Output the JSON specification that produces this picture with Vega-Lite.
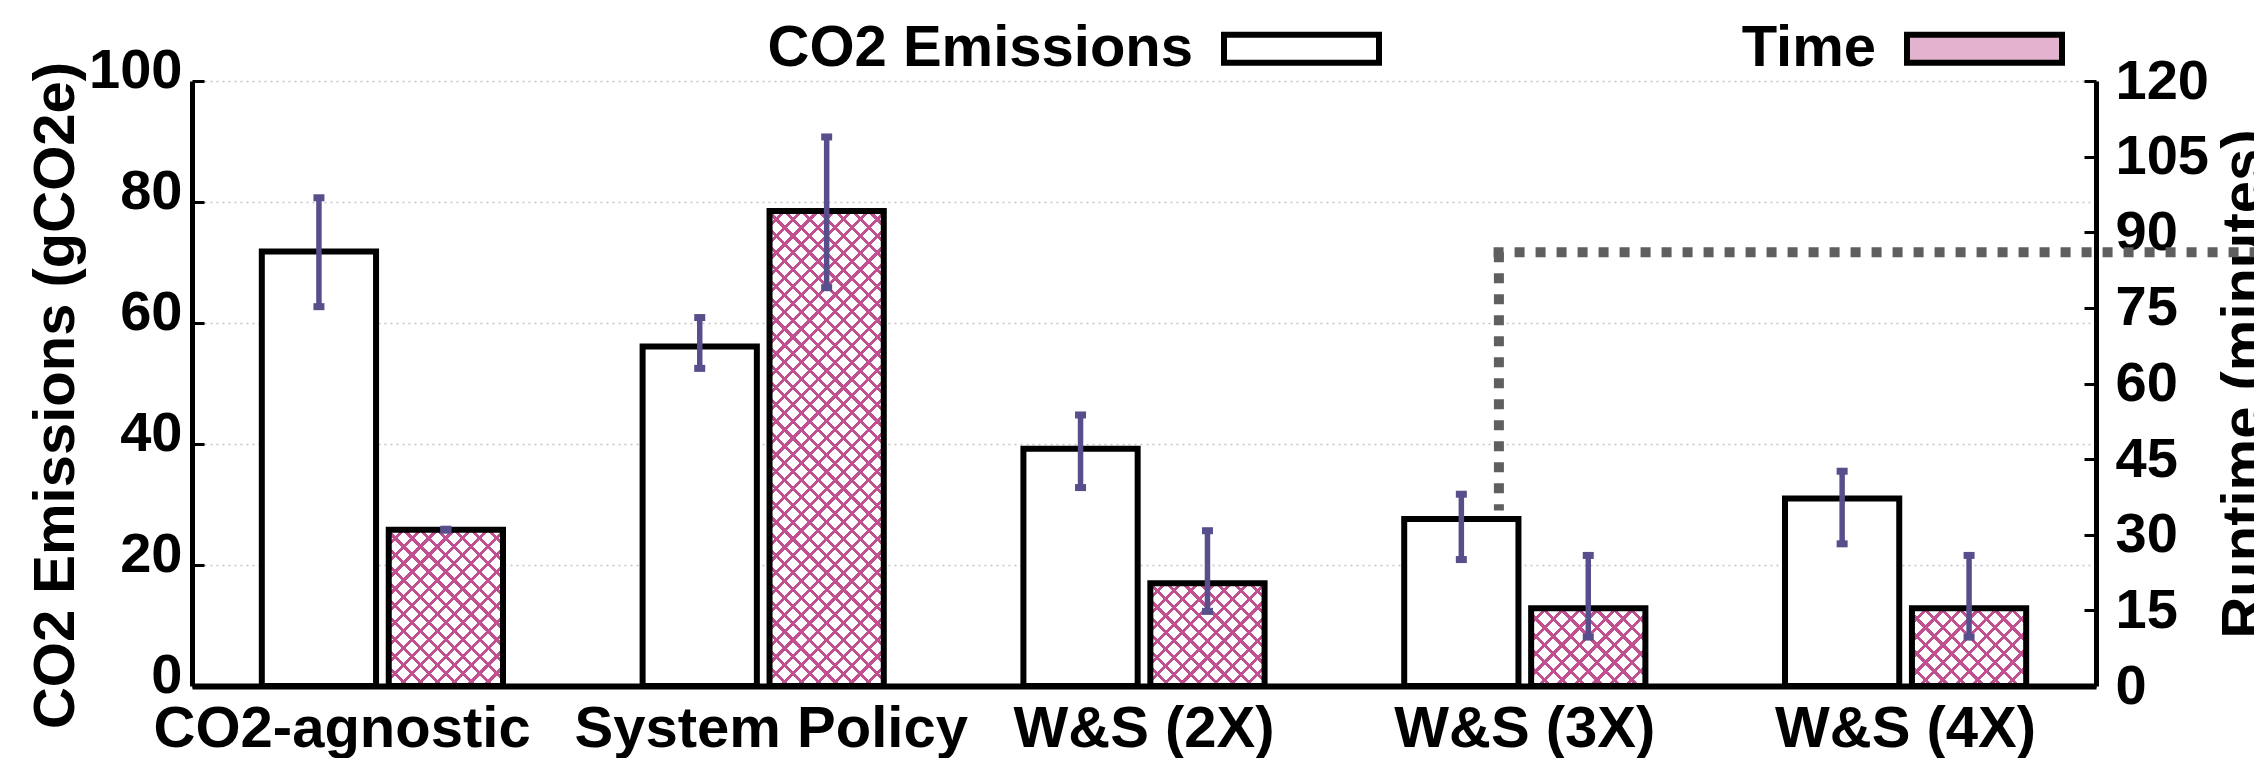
{
"$schema": "https://vega.github.io/schema/vega-lite/v6.json",
"width": 1904,
"height": 605,
"autosize": {"type": "none"},
"padding": {"left": 192, "top": 81, "right": 158, "bottom": 72},
"background": "white",
"config": {
 "font": "Liberation Sans",
 "view": {"stroke": null},
 "axis": {"labelFont": "Liberation Sans", "labelFontWeight": "bold", "labelColor": "black", "titleFont": "Liberation Sans", "titleFontWeight": "bold", "titleColor": "black", "titleFontSize": 58},
 "legend": {"labelFont": "Liberation Sans", "labelFontWeight": "bold", "labelColor": "black", "labelFontSize": 58}
},
"data": {"values": [
 {"policy": "CO2-agnostic", "series": "CO2 Emissions", "value": 71.8, "lo": 62.7, "hi": 80.7},
 {"policy": "CO2-agnostic", "series": "Time", "value": 31.0, "lo": 30.9, "hi": 31.1},
 {"policy": "System Policy", "series": "CO2 Emissions", "value": 56.1, "lo": 52.5, "hi": 60.9},
 {"policy": "System Policy", "series": "Time", "value": 94.2, "lo": 79.0, "hi": 108.9},
 {"policy": "W&S (2X)", "series": "CO2 Emissions", "value": 39.2, "lo": 32.8, "hi": 44.8},
 {"policy": "W&S (2X)", "series": "Time", "value": 20.4, "lo": 14.8, "hi": 30.8},
 {"policy": "W&S (3X)", "series": "CO2 Emissions", "value": 27.6, "lo": 20.9, "hi": 31.7},
 {"policy": "W&S (3X)", "series": "Time", "value": 15.4, "lo": 9.7, "hi": 25.9},
 {"policy": "W&S (4X)", "series": "CO2 Emissions", "value": 31.0, "lo": 23.5, "hi": 35.5},
 {"policy": "W&S (4X)", "series": "Time", "value": 15.4, "lo": 9.7, "hi": 25.9}
]},
"encoding": {
 "x": {"field": "policy", "type": "nominal",
  "scale": {"domain": ["CO2-agnostic", "System Policy", "W&S (2X)", "W&S (3X)", "W&S (4X)"], "paddingInner": 0, "paddingOuter": 0},
  "axis": {"title": null, "orient": "bottom", "ticks": false, "domain": true, "domainColor": "black", "domainWidth": 6, "grid": false, "labelAngle": 0, "labelFontSize": 58, "labelPadding": 14, "labelLimit": 0, "labelOverlap": false,
   "labelExpr": "datum.label === 'CO2-agnostic' ? 'CO2-agnostic\u00a0\u00a0\u00a0\u00a0\u00a0\u200B' : datum.label === 'System Policy' ? '\u200B\u00a0System Policy' : datum.label"}}
},
"layer": [
 {"transform": [{"filter": "datum.series === 'CO2 Emissions'"}],
  "mark": {"type": "bar", "stroke": "black", "strokeWidth": 6},
  "encoding": {
   "xOffset": {"field": "series", "type": "nominal", "scale": {"domain": ["CO2 Emissions", "Time"], "paddingInner": 0.1, "paddingOuter": 0.55}},
   "y": {"field": "value", "type": "quantitative", "scale": {"domain": [0, 100], "nice": false},
    "axis": {"orient": "left", "title": "CO2 Emissions (gCO2e)", "values": [0, 20, 40, 60, 80, 100], "grid": true, "gridColor": "#c4c4c4", "gridDash": [2, 4], "gridWidth": 1.5, "domain": true, "domainColor": "black", "domainWidth": 5, "ticks": true, "tickColor": "black", "tickSize": -12, "tickWidth": 3, "labelFontSize": 56, "labelPadding": 22, "labelOffset": -11, "labelOverlap": false, "titlePadding": 3, "titleY": 314}},
   "fill": {"field": "series", "type": "nominal", "scale": {"domain": ["CO2 Emissions", "Time"], "range": ["white", "#e3b2ce"]},
    "legend": {"orient": "none", "legendX": 1029, "legendY": -113, "direction": "horizontal", "title": null, "symbolType": "M-1,-0.18H1V0.18H-1Z", "symbolSize": 24025, "symbolStrokeColor": "black", "symbolStrokeWidth": 6, "labelAlign": "right", "labelBaseline": "middle", "labelOffset": -189, "labelLimit": 0, "columnPadding": 350}}}},
 {"transform": [{"filter": "datum.series === 'CO2 Emissions'"}],
  "mark": {"type": "rule", "color": "#574f8c", "strokeWidth": 5.5},
  "encoding": {
   "xOffset": {"field": "series", "type": "nominal", "scale": {"domain": ["CO2 Emissions", "Time"], "paddingInner": 0.1, "paddingOuter": 0.55}},
   "y": {"field": "lo", "type": "quantitative", "scale": {"domain": [0, 100], "nice": false}, "axis": null}, "y2": {"field": "hi"}}},
 {"transform": [{"filter": "datum.series === 'CO2 Emissions'"}],
  "mark": {"type": "tick", "color": "#574f8c", "size": 11, "thickness": 7, "opacity": 1},
  "encoding": {
   "xOffset": {"field": "series", "type": "nominal", "scale": {"domain": ["CO2 Emissions", "Time"], "paddingInner": 0.1, "paddingOuter": 0.55}},
   "y": {"field": "lo", "type": "quantitative", "scale": {"domain": [0, 100], "nice": false}, "axis": null}}},
 {"transform": [{"filter": "datum.series === 'CO2 Emissions'"}],
  "mark": {"type": "tick", "color": "#574f8c", "size": 11, "thickness": 7, "opacity": 1},
  "encoding": {
   "xOffset": {"field": "series", "type": "nominal", "scale": {"domain": ["CO2 Emissions", "Time"], "paddingInner": 0.1, "paddingOuter": 0.55}},
   "y": {"field": "hi", "type": "quantitative", "scale": {"domain": [0, 100], "nice": false}, "axis": null}}},
 {"transform": [{"filter": "datum.series === 'Time'"}],
  "mark": {"type": "bar", "fill": "white", "strokeWidth": 0},
  "encoding": {
   "xOffset": {"field": "series", "type": "nominal", "scale": {"domain": ["CO2 Emissions", "Time"], "paddingInner": 0.1, "paddingOuter": 0.55}},
   "y": {"field": "value", "type": "quantitative", "scale": {"domain": [0, 120], "nice": false},
    "axis": {"orient": "right", "title": "Runtime (minutes)", "values": [0, 15, 30, 45, 60, 75, 90, 105, 120], "grid": false, "domain": true, "domainColor": "black", "domainWidth": 5, "ticks": true, "tickColor": "black", "tickSize": -12, "tickWidth": 3, "labelFontSize": 56, "labelPadding": 31, "labelOverlap": false, "titleAngle": 270, "titleBaseline": "top", "titlePadding": 7}}}},
 {"transform": [{"filter": "datum.series === 'Time' && datum.policy === 'CO2-agnostic'"}],
  "mark": {"type": "bar", "strokeWidth": 0, "fill": {"gradient": "linear", "x1": 0, "y1": 0, "x2": 0.82464, "y2": 1.12818, "stops": [{"offset":0,"color":"transparent"},{"offset":0.046875,"color":"transparent"},{"offset":0.046875,"color":"#c0508f"},{"offset":0.0625,"color":"#c0508f"},{"offset":0.0625,"color":"transparent"},{"offset":0.109375,"color":"transparent"},{"offset":0.109375,"color":"#c0508f"},{"offset":0.125,"color":"#c0508f"},{"offset":0.125,"color":"transparent"},{"offset":0.171875,"color":"transparent"},{"offset":0.171875,"color":"#c0508f"},{"offset":0.1875,"color":"#c0508f"},{"offset":0.1875,"color":"transparent"},{"offset":0.234375,"color":"transparent"},{"offset":0.234375,"color":"#c0508f"},{"offset":0.25,"color":"#c0508f"},{"offset":0.25,"color":"transparent"},{"offset":0.296875,"color":"transparent"},{"offset":0.296875,"color":"#c0508f"},{"offset":0.3125,"color":"#c0508f"},{"offset":0.3125,"color":"transparent"},{"offset":0.359375,"color":"transparent"},{"offset":0.359375,"color":"#c0508f"},{"offset":0.375,"color":"#c0508f"},{"offset":0.375,"color":"transparent"},{"offset":0.421875,"color":"transparent"},{"offset":0.421875,"color":"#c0508f"},{"offset":0.4375,"color":"#c0508f"},{"offset":0.4375,"color":"transparent"},{"offset":0.484375,"color":"transparent"},{"offset":0.484375,"color":"#c0508f"},{"offset":0.5,"color":"#c0508f"},{"offset":0.5,"color":"transparent"},{"offset":0.546875,"color":"transparent"},{"offset":0.546875,"color":"#c0508f"},{"offset":0.5625,"color":"#c0508f"},{"offset":0.5625,"color":"transparent"},{"offset":0.609375,"color":"transparent"},{"offset":0.609375,"color":"#c0508f"},{"offset":0.625,"color":"#c0508f"},{"offset":0.625,"color":"transparent"},{"offset":0.671875,"color":"transparent"},{"offset":0.671875,"color":"#c0508f"},{"offset":0.6875,"color":"#c0508f"},{"offset":0.6875,"color":"transparent"},{"offset":0.734375,"color":"transparent"},{"offset":0.734375,"color":"#c0508f"},{"offset":0.75,"color":"#c0508f"},{"offset":0.75,"color":"transparent"},{"offset":0.796875,"color":"transparent"},{"offset":0.796875,"color":"#c0508f"},{"offset":0.8125,"color":"#c0508f"},{"offset":0.8125,"color":"transparent"},{"offset":0.859375,"color":"transparent"},{"offset":0.859375,"color":"#c0508f"},{"offset":0.875,"color":"#c0508f"},{"offset":0.875,"color":"transparent"},{"offset":0.921875,"color":"transparent"},{"offset":0.921875,"color":"#c0508f"},{"offset":0.9375,"color":"#c0508f"},{"offset":0.9375,"color":"transparent"},{"offset":0.984375,"color":"transparent"},{"offset":0.984375,"color":"#c0508f"},{"offset":1,"color":"#c0508f"}]}},
  "encoding": {
   "xOffset": {"field": "series", "type": "nominal", "scale": {"domain": ["CO2 Emissions", "Time"], "paddingInner": 0.1, "paddingOuter": 0.55}},
   "y": {"field": "value", "type": "quantitative", "scale": {"domain": [0, 120], "nice": false}, "axis": null}}},
 {"transform": [{"filter": "datum.series === 'Time' && datum.policy === 'CO2-agnostic'"}],
  "mark": {"type": "bar", "strokeWidth": 0, "fill": {"gradient": "linear", "x1": 1, "y1": 0, "x2": 0.17536, "y2": 1.12818, "stops": [{"offset":0,"color":"transparent"},{"offset":0.046875,"color":"transparent"},{"offset":0.046875,"color":"#c0508f"},{"offset":0.0625,"color":"#c0508f"},{"offset":0.0625,"color":"transparent"},{"offset":0.109375,"color":"transparent"},{"offset":0.109375,"color":"#c0508f"},{"offset":0.125,"color":"#c0508f"},{"offset":0.125,"color":"transparent"},{"offset":0.171875,"color":"transparent"},{"offset":0.171875,"color":"#c0508f"},{"offset":0.1875,"color":"#c0508f"},{"offset":0.1875,"color":"transparent"},{"offset":0.234375,"color":"transparent"},{"offset":0.234375,"color":"#c0508f"},{"offset":0.25,"color":"#c0508f"},{"offset":0.25,"color":"transparent"},{"offset":0.296875,"color":"transparent"},{"offset":0.296875,"color":"#c0508f"},{"offset":0.3125,"color":"#c0508f"},{"offset":0.3125,"color":"transparent"},{"offset":0.359375,"color":"transparent"},{"offset":0.359375,"color":"#c0508f"},{"offset":0.375,"color":"#c0508f"},{"offset":0.375,"color":"transparent"},{"offset":0.421875,"color":"transparent"},{"offset":0.421875,"color":"#c0508f"},{"offset":0.4375,"color":"#c0508f"},{"offset":0.4375,"color":"transparent"},{"offset":0.484375,"color":"transparent"},{"offset":0.484375,"color":"#c0508f"},{"offset":0.5,"color":"#c0508f"},{"offset":0.5,"color":"transparent"},{"offset":0.546875,"color":"transparent"},{"offset":0.546875,"color":"#c0508f"},{"offset":0.5625,"color":"#c0508f"},{"offset":0.5625,"color":"transparent"},{"offset":0.609375,"color":"transparent"},{"offset":0.609375,"color":"#c0508f"},{"offset":0.625,"color":"#c0508f"},{"offset":0.625,"color":"transparent"},{"offset":0.671875,"color":"transparent"},{"offset":0.671875,"color":"#c0508f"},{"offset":0.6875,"color":"#c0508f"},{"offset":0.6875,"color":"transparent"},{"offset":0.734375,"color":"transparent"},{"offset":0.734375,"color":"#c0508f"},{"offset":0.75,"color":"#c0508f"},{"offset":0.75,"color":"transparent"},{"offset":0.796875,"color":"transparent"},{"offset":0.796875,"color":"#c0508f"},{"offset":0.8125,"color":"#c0508f"},{"offset":0.8125,"color":"transparent"},{"offset":0.859375,"color":"transparent"},{"offset":0.859375,"color":"#c0508f"},{"offset":0.875,"color":"#c0508f"},{"offset":0.875,"color":"transparent"},{"offset":0.921875,"color":"transparent"},{"offset":0.921875,"color":"#c0508f"},{"offset":0.9375,"color":"#c0508f"},{"offset":0.9375,"color":"transparent"},{"offset":0.984375,"color":"transparent"},{"offset":0.984375,"color":"#c0508f"},{"offset":1,"color":"#c0508f"}]}},
  "encoding": {
   "xOffset": {"field": "series", "type": "nominal", "scale": {"domain": ["CO2 Emissions", "Time"], "paddingInner": 0.1, "paddingOuter": 0.55}},
   "y": {"field": "value", "type": "quantitative", "scale": {"domain": [0, 120], "nice": false}, "axis": null}}},
 {"transform": [{"filter": "datum.series === 'Time' && datum.policy === 'System Policy'"}],
  "mark": {"type": "bar", "strokeWidth": 0, "fill": {"gradient": "linear", "x1": 0, "y1": 0, "x2": 0.28208, "y2": 1.17269, "stops": [{"offset":0,"color":"transparent"},{"offset":0.021429,"color":"transparent"},{"offset":0.021429,"color":"#c0508f"},{"offset":0.028571,"color":"#c0508f"},{"offset":0.028571,"color":"transparent"},{"offset":0.05,"color":"transparent"},{"offset":0.05,"color":"#c0508f"},{"offset":0.057143,"color":"#c0508f"},{"offset":0.057143,"color":"transparent"},{"offset":0.078571,"color":"transparent"},{"offset":0.078571,"color":"#c0508f"},{"offset":0.085714,"color":"#c0508f"},{"offset":0.085714,"color":"transparent"},{"offset":0.107143,"color":"transparent"},{"offset":0.107143,"color":"#c0508f"},{"offset":0.114286,"color":"#c0508f"},{"offset":0.114286,"color":"transparent"},{"offset":0.135714,"color":"transparent"},{"offset":0.135714,"color":"#c0508f"},{"offset":0.142857,"color":"#c0508f"},{"offset":0.142857,"color":"transparent"},{"offset":0.164286,"color":"transparent"},{"offset":0.164286,"color":"#c0508f"},{"offset":0.171429,"color":"#c0508f"},{"offset":0.171429,"color":"transparent"},{"offset":0.192857,"color":"transparent"},{"offset":0.192857,"color":"#c0508f"},{"offset":0.2,"color":"#c0508f"},{"offset":0.2,"color":"transparent"},{"offset":0.221429,"color":"transparent"},{"offset":0.221429,"color":"#c0508f"},{"offset":0.228571,"color":"#c0508f"},{"offset":0.228571,"color":"transparent"},{"offset":0.25,"color":"transparent"},{"offset":0.25,"color":"#c0508f"},{"offset":0.257143,"color":"#c0508f"},{"offset":0.257143,"color":"transparent"},{"offset":0.278571,"color":"transparent"},{"offset":0.278571,"color":"#c0508f"},{"offset":0.285714,"color":"#c0508f"},{"offset":0.285714,"color":"transparent"},{"offset":0.307143,"color":"transparent"},{"offset":0.307143,"color":"#c0508f"},{"offset":0.314286,"color":"#c0508f"},{"offset":0.314286,"color":"transparent"},{"offset":0.335714,"color":"transparent"},{"offset":0.335714,"color":"#c0508f"},{"offset":0.342857,"color":"#c0508f"},{"offset":0.342857,"color":"transparent"},{"offset":0.364286,"color":"transparent"},{"offset":0.364286,"color":"#c0508f"},{"offset":0.371429,"color":"#c0508f"},{"offset":0.371429,"color":"transparent"},{"offset":0.392857,"color":"transparent"},{"offset":0.392857,"color":"#c0508f"},{"offset":0.4,"color":"#c0508f"},{"offset":0.4,"color":"transparent"},{"offset":0.421429,"color":"transparent"},{"offset":0.421429,"color":"#c0508f"},{"offset":0.428571,"color":"#c0508f"},{"offset":0.428571,"color":"transparent"},{"offset":0.45,"color":"transparent"},{"offset":0.45,"color":"#c0508f"},{"offset":0.457143,"color":"#c0508f"},{"offset":0.457143,"color":"transparent"},{"offset":0.478571,"color":"transparent"},{"offset":0.478571,"color":"#c0508f"},{"offset":0.485714,"color":"#c0508f"},{"offset":0.485714,"color":"transparent"},{"offset":0.507143,"color":"transparent"},{"offset":0.507143,"color":"#c0508f"},{"offset":0.514286,"color":"#c0508f"},{"offset":0.514286,"color":"transparent"},{"offset":0.535714,"color":"transparent"},{"offset":0.535714,"color":"#c0508f"},{"offset":0.542857,"color":"#c0508f"},{"offset":0.542857,"color":"transparent"},{"offset":0.564286,"color":"transparent"},{"offset":0.564286,"color":"#c0508f"},{"offset":0.571429,"color":"#c0508f"},{"offset":0.571429,"color":"transparent"},{"offset":0.592857,"color":"transparent"},{"offset":0.592857,"color":"#c0508f"},{"offset":0.6,"color":"#c0508f"},{"offset":0.6,"color":"transparent"},{"offset":0.621429,"color":"transparent"},{"offset":0.621429,"color":"#c0508f"},{"offset":0.628571,"color":"#c0508f"},{"offset":0.628571,"color":"transparent"},{"offset":0.65,"color":"transparent"},{"offset":0.65,"color":"#c0508f"},{"offset":0.657143,"color":"#c0508f"},{"offset":0.657143,"color":"transparent"},{"offset":0.678571,"color":"transparent"},{"offset":0.678571,"color":"#c0508f"},{"offset":0.685714,"color":"#c0508f"},{"offset":0.685714,"color":"transparent"},{"offset":0.707143,"color":"transparent"},{"offset":0.707143,"color":"#c0508f"},{"offset":0.714286,"color":"#c0508f"},{"offset":0.714286,"color":"transparent"},{"offset":0.735714,"color":"transparent"},{"offset":0.735714,"color":"#c0508f"},{"offset":0.742857,"color":"#c0508f"},{"offset":0.742857,"color":"transparent"},{"offset":0.764286,"color":"transparent"},{"offset":0.764286,"color":"#c0508f"},{"offset":0.771429,"color":"#c0508f"},{"offset":0.771429,"color":"transparent"},{"offset":0.792857,"color":"transparent"},{"offset":0.792857,"color":"#c0508f"},{"offset":0.8,"color":"#c0508f"},{"offset":0.8,"color":"transparent"},{"offset":0.821429,"color":"transparent"},{"offset":0.821429,"color":"#c0508f"},{"offset":0.828571,"color":"#c0508f"},{"offset":0.828571,"color":"transparent"},{"offset":0.85,"color":"transparent"},{"offset":0.85,"color":"#c0508f"},{"offset":0.857143,"color":"#c0508f"},{"offset":0.857143,"color":"transparent"},{"offset":0.878571,"color":"transparent"},{"offset":0.878571,"color":"#c0508f"},{"offset":0.885714,"color":"#c0508f"},{"offset":0.885714,"color":"transparent"},{"offset":0.907143,"color":"transparent"},{"offset":0.907143,"color":"#c0508f"},{"offset":0.914286,"color":"#c0508f"},{"offset":0.914286,"color":"transparent"},{"offset":0.935714,"color":"transparent"},{"offset":0.935714,"color":"#c0508f"},{"offset":0.942857,"color":"#c0508f"},{"offset":0.942857,"color":"transparent"},{"offset":0.964286,"color":"transparent"},{"offset":0.964286,"color":"#c0508f"},{"offset":0.971429,"color":"#c0508f"},{"offset":0.971429,"color":"transparent"},{"offset":0.992857,"color":"transparent"},{"offset":0.992857,"color":"#c0508f"},{"offset":1,"color":"#c0508f"}]}},
  "encoding": {
   "xOffset": {"field": "series", "type": "nominal", "scale": {"domain": ["CO2 Emissions", "Time"], "paddingInner": 0.1, "paddingOuter": 0.55}},
   "y": {"field": "value", "type": "quantitative", "scale": {"domain": [0, 120], "nice": false}, "axis": null}}},
 {"transform": [{"filter": "datum.series === 'Time' && datum.policy === 'System Policy'"}],
  "mark": {"type": "bar", "strokeWidth": 0, "fill": {"gradient": "linear", "x1": 1, "y1": 0, "x2": 0.71792, "y2": 1.17269, "stops": [{"offset":0,"color":"transparent"},{"offset":0.021429,"color":"transparent"},{"offset":0.021429,"color":"#c0508f"},{"offset":0.028571,"color":"#c0508f"},{"offset":0.028571,"color":"transparent"},{"offset":0.05,"color":"transparent"},{"offset":0.05,"color":"#c0508f"},{"offset":0.057143,"color":"#c0508f"},{"offset":0.057143,"color":"transparent"},{"offset":0.078571,"color":"transparent"},{"offset":0.078571,"color":"#c0508f"},{"offset":0.085714,"color":"#c0508f"},{"offset":0.085714,"color":"transparent"},{"offset":0.107143,"color":"transparent"},{"offset":0.107143,"color":"#c0508f"},{"offset":0.114286,"color":"#c0508f"},{"offset":0.114286,"color":"transparent"},{"offset":0.135714,"color":"transparent"},{"offset":0.135714,"color":"#c0508f"},{"offset":0.142857,"color":"#c0508f"},{"offset":0.142857,"color":"transparent"},{"offset":0.164286,"color":"transparent"},{"offset":0.164286,"color":"#c0508f"},{"offset":0.171429,"color":"#c0508f"},{"offset":0.171429,"color":"transparent"},{"offset":0.192857,"color":"transparent"},{"offset":0.192857,"color":"#c0508f"},{"offset":0.2,"color":"#c0508f"},{"offset":0.2,"color":"transparent"},{"offset":0.221429,"color":"transparent"},{"offset":0.221429,"color":"#c0508f"},{"offset":0.228571,"color":"#c0508f"},{"offset":0.228571,"color":"transparent"},{"offset":0.25,"color":"transparent"},{"offset":0.25,"color":"#c0508f"},{"offset":0.257143,"color":"#c0508f"},{"offset":0.257143,"color":"transparent"},{"offset":0.278571,"color":"transparent"},{"offset":0.278571,"color":"#c0508f"},{"offset":0.285714,"color":"#c0508f"},{"offset":0.285714,"color":"transparent"},{"offset":0.307143,"color":"transparent"},{"offset":0.307143,"color":"#c0508f"},{"offset":0.314286,"color":"#c0508f"},{"offset":0.314286,"color":"transparent"},{"offset":0.335714,"color":"transparent"},{"offset":0.335714,"color":"#c0508f"},{"offset":0.342857,"color":"#c0508f"},{"offset":0.342857,"color":"transparent"},{"offset":0.364286,"color":"transparent"},{"offset":0.364286,"color":"#c0508f"},{"offset":0.371429,"color":"#c0508f"},{"offset":0.371429,"color":"transparent"},{"offset":0.392857,"color":"transparent"},{"offset":0.392857,"color":"#c0508f"},{"offset":0.4,"color":"#c0508f"},{"offset":0.4,"color":"transparent"},{"offset":0.421429,"color":"transparent"},{"offset":0.421429,"color":"#c0508f"},{"offset":0.428571,"color":"#c0508f"},{"offset":0.428571,"color":"transparent"},{"offset":0.45,"color":"transparent"},{"offset":0.45,"color":"#c0508f"},{"offset":0.457143,"color":"#c0508f"},{"offset":0.457143,"color":"transparent"},{"offset":0.478571,"color":"transparent"},{"offset":0.478571,"color":"#c0508f"},{"offset":0.485714,"color":"#c0508f"},{"offset":0.485714,"color":"transparent"},{"offset":0.507143,"color":"transparent"},{"offset":0.507143,"color":"#c0508f"},{"offset":0.514286,"color":"#c0508f"},{"offset":0.514286,"color":"transparent"},{"offset":0.535714,"color":"transparent"},{"offset":0.535714,"color":"#c0508f"},{"offset":0.542857,"color":"#c0508f"},{"offset":0.542857,"color":"transparent"},{"offset":0.564286,"color":"transparent"},{"offset":0.564286,"color":"#c0508f"},{"offset":0.571429,"color":"#c0508f"},{"offset":0.571429,"color":"transparent"},{"offset":0.592857,"color":"transparent"},{"offset":0.592857,"color":"#c0508f"},{"offset":0.6,"color":"#c0508f"},{"offset":0.6,"color":"transparent"},{"offset":0.621429,"color":"transparent"},{"offset":0.621429,"color":"#c0508f"},{"offset":0.628571,"color":"#c0508f"},{"offset":0.628571,"color":"transparent"},{"offset":0.65,"color":"transparent"},{"offset":0.65,"color":"#c0508f"},{"offset":0.657143,"color":"#c0508f"},{"offset":0.657143,"color":"transparent"},{"offset":0.678571,"color":"transparent"},{"offset":0.678571,"color":"#c0508f"},{"offset":0.685714,"color":"#c0508f"},{"offset":0.685714,"color":"transparent"},{"offset":0.707143,"color":"transparent"},{"offset":0.707143,"color":"#c0508f"},{"offset":0.714286,"color":"#c0508f"},{"offset":0.714286,"color":"transparent"},{"offset":0.735714,"color":"transparent"},{"offset":0.735714,"color":"#c0508f"},{"offset":0.742857,"color":"#c0508f"},{"offset":0.742857,"color":"transparent"},{"offset":0.764286,"color":"transparent"},{"offset":0.764286,"color":"#c0508f"},{"offset":0.771429,"color":"#c0508f"},{"offset":0.771429,"color":"transparent"},{"offset":0.792857,"color":"transparent"},{"offset":0.792857,"color":"#c0508f"},{"offset":0.8,"color":"#c0508f"},{"offset":0.8,"color":"transparent"},{"offset":0.821429,"color":"transparent"},{"offset":0.821429,"color":"#c0508f"},{"offset":0.828571,"color":"#c0508f"},{"offset":0.828571,"color":"transparent"},{"offset":0.85,"color":"transparent"},{"offset":0.85,"color":"#c0508f"},{"offset":0.857143,"color":"#c0508f"},{"offset":0.857143,"color":"transparent"},{"offset":0.878571,"color":"transparent"},{"offset":0.878571,"color":"#c0508f"},{"offset":0.885714,"color":"#c0508f"},{"offset":0.885714,"color":"transparent"},{"offset":0.907143,"color":"transparent"},{"offset":0.907143,"color":"#c0508f"},{"offset":0.914286,"color":"#c0508f"},{"offset":0.914286,"color":"transparent"},{"offset":0.935714,"color":"transparent"},{"offset":0.935714,"color":"#c0508f"},{"offset":0.942857,"color":"#c0508f"},{"offset":0.942857,"color":"transparent"},{"offset":0.964286,"color":"transparent"},{"offset":0.964286,"color":"#c0508f"},{"offset":0.971429,"color":"#c0508f"},{"offset":0.971429,"color":"transparent"},{"offset":0.992857,"color":"transparent"},{"offset":0.992857,"color":"#c0508f"},{"offset":1,"color":"#c0508f"}]}},
  "encoding": {
   "xOffset": {"field": "series", "type": "nominal", "scale": {"domain": ["CO2 Emissions", "Time"], "paddingInner": 0.1, "paddingOuter": 0.55}},
   "y": {"field": "value", "type": "quantitative", "scale": {"domain": [0, 120], "nice": false}, "axis": null}}},
 {"transform": [{"filter": "datum.series === 'Time' && datum.policy === 'W&S (2X)'"}],
  "mark": {"type": "bar", "strokeWidth": 0, "fill": {"gradient": "linear", "x1": 0, "y1": 0, "x2": 1.04958, "y2": 0.94493, "stops": [{"offset":0,"color":"transparent"},{"offset":0.057692,"color":"transparent"},{"offset":0.057692,"color":"#c0508f"},{"offset":0.076923,"color":"#c0508f"},{"offset":0.076923,"color":"transparent"},{"offset":0.134615,"color":"transparent"},{"offset":0.134615,"color":"#c0508f"},{"offset":0.153846,"color":"#c0508f"},{"offset":0.153846,"color":"transparent"},{"offset":0.211538,"color":"transparent"},{"offset":0.211538,"color":"#c0508f"},{"offset":0.230769,"color":"#c0508f"},{"offset":0.230769,"color":"transparent"},{"offset":0.288462,"color":"transparent"},{"offset":0.288462,"color":"#c0508f"},{"offset":0.307692,"color":"#c0508f"},{"offset":0.307692,"color":"transparent"},{"offset":0.365385,"color":"transparent"},{"offset":0.365385,"color":"#c0508f"},{"offset":0.384615,"color":"#c0508f"},{"offset":0.384615,"color":"transparent"},{"offset":0.442308,"color":"transparent"},{"offset":0.442308,"color":"#c0508f"},{"offset":0.461538,"color":"#c0508f"},{"offset":0.461538,"color":"transparent"},{"offset":0.519231,"color":"transparent"},{"offset":0.519231,"color":"#c0508f"},{"offset":0.538462,"color":"#c0508f"},{"offset":0.538462,"color":"transparent"},{"offset":0.596154,"color":"transparent"},{"offset":0.596154,"color":"#c0508f"},{"offset":0.615385,"color":"#c0508f"},{"offset":0.615385,"color":"transparent"},{"offset":0.673077,"color":"transparent"},{"offset":0.673077,"color":"#c0508f"},{"offset":0.692308,"color":"#c0508f"},{"offset":0.692308,"color":"transparent"},{"offset":0.75,"color":"transparent"},{"offset":0.75,"color":"#c0508f"},{"offset":0.769231,"color":"#c0508f"},{"offset":0.769231,"color":"transparent"},{"offset":0.826923,"color":"transparent"},{"offset":0.826923,"color":"#c0508f"},{"offset":0.846154,"color":"#c0508f"},{"offset":0.846154,"color":"transparent"},{"offset":0.903846,"color":"transparent"},{"offset":0.903846,"color":"#c0508f"},{"offset":0.923077,"color":"#c0508f"},{"offset":0.923077,"color":"transparent"},{"offset":0.980769,"color":"transparent"},{"offset":0.980769,"color":"#c0508f"},{"offset":1,"color":"#c0508f"}]}},
  "encoding": {
   "xOffset": {"field": "series", "type": "nominal", "scale": {"domain": ["CO2 Emissions", "Time"], "paddingInner": 0.1, "paddingOuter": 0.55}},
   "y": {"field": "value", "type": "quantitative", "scale": {"domain": [0, 120], "nice": false}, "axis": null}}},
 {"transform": [{"filter": "datum.series === 'Time' && datum.policy === 'W&S (2X)'"}],
  "mark": {"type": "bar", "strokeWidth": 0, "fill": {"gradient": "linear", "x1": 1, "y1": 0, "x2": -0.04958, "y2": 0.94493, "stops": [{"offset":0,"color":"transparent"},{"offset":0.057692,"color":"transparent"},{"offset":0.057692,"color":"#c0508f"},{"offset":0.076923,"color":"#c0508f"},{"offset":0.076923,"color":"transparent"},{"offset":0.134615,"color":"transparent"},{"offset":0.134615,"color":"#c0508f"},{"offset":0.153846,"color":"#c0508f"},{"offset":0.153846,"color":"transparent"},{"offset":0.211538,"color":"transparent"},{"offset":0.211538,"color":"#c0508f"},{"offset":0.230769,"color":"#c0508f"},{"offset":0.230769,"color":"transparent"},{"offset":0.288462,"color":"transparent"},{"offset":0.288462,"color":"#c0508f"},{"offset":0.307692,"color":"#c0508f"},{"offset":0.307692,"color":"transparent"},{"offset":0.365385,"color":"transparent"},{"offset":0.365385,"color":"#c0508f"},{"offset":0.384615,"color":"#c0508f"},{"offset":0.384615,"color":"transparent"},{"offset":0.442308,"color":"transparent"},{"offset":0.442308,"color":"#c0508f"},{"offset":0.461538,"color":"#c0508f"},{"offset":0.461538,"color":"transparent"},{"offset":0.519231,"color":"transparent"},{"offset":0.519231,"color":"#c0508f"},{"offset":0.538462,"color":"#c0508f"},{"offset":0.538462,"color":"transparent"},{"offset":0.596154,"color":"transparent"},{"offset":0.596154,"color":"#c0508f"},{"offset":0.615385,"color":"#c0508f"},{"offset":0.615385,"color":"transparent"},{"offset":0.673077,"color":"transparent"},{"offset":0.673077,"color":"#c0508f"},{"offset":0.692308,"color":"#c0508f"},{"offset":0.692308,"color":"transparent"},{"offset":0.75,"color":"transparent"},{"offset":0.75,"color":"#c0508f"},{"offset":0.769231,"color":"#c0508f"},{"offset":0.769231,"color":"transparent"},{"offset":0.826923,"color":"transparent"},{"offset":0.826923,"color":"#c0508f"},{"offset":0.846154,"color":"#c0508f"},{"offset":0.846154,"color":"transparent"},{"offset":0.903846,"color":"transparent"},{"offset":0.903846,"color":"#c0508f"},{"offset":0.923077,"color":"#c0508f"},{"offset":0.923077,"color":"transparent"},{"offset":0.980769,"color":"transparent"},{"offset":0.980769,"color":"#c0508f"},{"offset":1,"color":"#c0508f"}]}},
  "encoding": {
   "xOffset": {"field": "series", "type": "nominal", "scale": {"domain": ["CO2 Emissions", "Time"], "paddingInner": 0.1, "paddingOuter": 0.55}},
   "y": {"field": "value", "type": "quantitative", "scale": {"domain": [0, 120], "nice": false}, "axis": null}}},
 {"transform": [{"filter": "datum.series === 'Time' && (datum.policy === 'W&S (3X)' || datum.policy === 'W&S (4X)')"}],
  "mark": {"type": "bar", "strokeWidth": 0, "fill": {"gradient": "linear", "x1": 0, "y1": 0, "x2": 1.14894, "y2": 0.78085, "stops": [{"offset":0,"color":"transparent"},{"offset":0.06818,"color":"transparent"},{"offset":0.06818,"color":"#c0508f"},{"offset":0.09091,"color":"#c0508f"},{"offset":0.09091,"color":"transparent"},{"offset":0.15909,"color":"transparent"},{"offset":0.15909,"color":"#c0508f"},{"offset":0.18182,"color":"#c0508f"},{"offset":0.18182,"color":"transparent"},{"offset":0.25,"color":"transparent"},{"offset":0.25,"color":"#c0508f"},{"offset":0.27273,"color":"#c0508f"},{"offset":0.27273,"color":"transparent"},{"offset":0.34091,"color":"transparent"},{"offset":0.34091,"color":"#c0508f"},{"offset":0.36364,"color":"#c0508f"},{"offset":0.36364,"color":"transparent"},{"offset":0.43182,"color":"transparent"},{"offset":0.43182,"color":"#c0508f"},{"offset":0.45455,"color":"#c0508f"},{"offset":0.45455,"color":"transparent"},{"offset":0.52273,"color":"transparent"},{"offset":0.52273,"color":"#c0508f"},{"offset":0.54545,"color":"#c0508f"},{"offset":0.54545,"color":"transparent"},{"offset":0.61364,"color":"transparent"},{"offset":0.61364,"color":"#c0508f"},{"offset":0.63636,"color":"#c0508f"},{"offset":0.63636,"color":"transparent"},{"offset":0.70455,"color":"transparent"},{"offset":0.70455,"color":"#c0508f"},{"offset":0.72727,"color":"#c0508f"},{"offset":0.72727,"color":"transparent"},{"offset":0.79545,"color":"transparent"},{"offset":0.79545,"color":"#c0508f"},{"offset":0.81818,"color":"#c0508f"},{"offset":0.81818,"color":"transparent"},{"offset":0.88636,"color":"transparent"},{"offset":0.88636,"color":"#c0508f"},{"offset":0.90909,"color":"#c0508f"},{"offset":0.90909,"color":"transparent"},{"offset":0.97727,"color":"transparent"},{"offset":0.97727,"color":"#c0508f"},{"offset":1,"color":"#c0508f"}]}},
  "encoding": {
   "xOffset": {"field": "series", "type": "nominal", "scale": {"domain": ["CO2 Emissions", "Time"], "paddingInner": 0.1, "paddingOuter": 0.55}},
   "y": {"field": "value", "type": "quantitative", "scale": {"domain": [0, 120], "nice": false}, "axis": null}}},
 {"transform": [{"filter": "datum.series === 'Time' && (datum.policy === 'W&S (3X)' || datum.policy === 'W&S (4X)')"}],
  "mark": {"type": "bar", "strokeWidth": 0, "fill": {"gradient": "linear", "x1": 1, "y1": 0, "x2": -0.14894, "y2": 0.78085, "stops": [{"offset":0,"color":"transparent"},{"offset":0.06818,"color":"transparent"},{"offset":0.06818,"color":"#c0508f"},{"offset":0.09091,"color":"#c0508f"},{"offset":0.09091,"color":"transparent"},{"offset":0.15909,"color":"transparent"},{"offset":0.15909,"color":"#c0508f"},{"offset":0.18182,"color":"#c0508f"},{"offset":0.18182,"color":"transparent"},{"offset":0.25,"color":"transparent"},{"offset":0.25,"color":"#c0508f"},{"offset":0.27273,"color":"#c0508f"},{"offset":0.27273,"color":"transparent"},{"offset":0.34091,"color":"transparent"},{"offset":0.34091,"color":"#c0508f"},{"offset":0.36364,"color":"#c0508f"},{"offset":0.36364,"color":"transparent"},{"offset":0.43182,"color":"transparent"},{"offset":0.43182,"color":"#c0508f"},{"offset":0.45455,"color":"#c0508f"},{"offset":0.45455,"color":"transparent"},{"offset":0.52273,"color":"transparent"},{"offset":0.52273,"color":"#c0508f"},{"offset":0.54545,"color":"#c0508f"},{"offset":0.54545,"color":"transparent"},{"offset":0.61364,"color":"transparent"},{"offset":0.61364,"color":"#c0508f"},{"offset":0.63636,"color":"#c0508f"},{"offset":0.63636,"color":"transparent"},{"offset":0.70455,"color":"transparent"},{"offset":0.70455,"color":"#c0508f"},{"offset":0.72727,"color":"#c0508f"},{"offset":0.72727,"color":"transparent"},{"offset":0.79545,"color":"transparent"},{"offset":0.79545,"color":"#c0508f"},{"offset":0.81818,"color":"#c0508f"},{"offset":0.81818,"color":"transparent"},{"offset":0.88636,"color":"transparent"},{"offset":0.88636,"color":"#c0508f"},{"offset":0.90909,"color":"#c0508f"},{"offset":0.90909,"color":"transparent"},{"offset":0.97727,"color":"transparent"},{"offset":0.97727,"color":"#c0508f"},{"offset":1,"color":"#c0508f"}]}},
  "encoding": {
   "xOffset": {"field": "series", "type": "nominal", "scale": {"domain": ["CO2 Emissions", "Time"], "paddingInner": 0.1, "paddingOuter": 0.55}},
   "y": {"field": "value", "type": "quantitative", "scale": {"domain": [0, 120], "nice": false}, "axis": null}}},
 {"transform": [{"filter": "datum.series === 'Time'"}],
  "mark": {"type": "bar", "fill": "transparent", "stroke": "black", "strokeWidth": 6},
  "encoding": {
   "xOffset": {"field": "series", "type": "nominal", "scale": {"domain": ["CO2 Emissions", "Time"], "paddingInner": 0.1, "paddingOuter": 0.55}},
   "y": {"field": "value", "type": "quantitative", "scale": {"domain": [0, 120], "nice": false}, "axis": null}}},
 {"transform": [{"filter": "datum.series === 'Time'"}],
  "mark": {"type": "rule", "color": "#574f8c", "strokeWidth": 5.5},
  "encoding": {
   "xOffset": {"field": "series", "type": "nominal", "scale": {"domain": ["CO2 Emissions", "Time"], "paddingInner": 0.1, "paddingOuter": 0.55}},
   "y": {"field": "lo", "type": "quantitative", "scale": {"domain": [0, 120], "nice": false}, "axis": null}, "y2": {"field": "hi"}}},
 {"transform": [{"filter": "datum.series === 'Time'"}],
  "mark": {"type": "tick", "color": "#574f8c", "size": 11, "thickness": 7, "opacity": 1},
  "encoding": {
   "xOffset": {"field": "series", "type": "nominal", "scale": {"domain": ["CO2 Emissions", "Time"], "paddingInner": 0.1, "paddingOuter": 0.55}},
   "y": {"field": "lo", "type": "quantitative", "scale": {"domain": [0, 120], "nice": false}, "axis": null}}},
 {"transform": [{"filter": "datum.series === 'Time'"}],
  "mark": {"type": "tick", "color": "#574f8c", "size": 11, "thickness": 7, "opacity": 1},
  "encoding": {
   "xOffset": {"field": "series", "type": "nominal", "scale": {"domain": ["CO2 Emissions", "Time"], "paddingInner": 0.1, "paddingOuter": 0.55}},
   "y": {"field": "hi", "type": "quantitative", "scale": {"domain": [0, 120], "nice": false}, "axis": null}}},
 {"data": {"values": [{"from": "W&S (3X)", "to": "W&S (4X)", "level": 71.7, "end": 29}]},
  "mark": {"type": "rule", "color": "#5f5f5f", "strokeWidth": 10, "strokeDash": [10, 11]},
  "encoding": {
   "x": {"field": "from", "type": "nominal", "bandPosition": 0.432, "scale": {"domain": ["CO2-agnostic", "System Policy", "W&S (2X)", "W&S (3X)", "W&S (4X)"], "paddingInner": 0, "paddingOuter": 0},
    "axis": {"title": null, "orient": "bottom", "ticks": false, "domain": true, "domainColor": "black", "domainWidth": 6, "grid": false, "labelAngle": 0, "labelFontSize": 58, "labelPadding": 14, "labelLimit": 0, "labelOverlap": false,
     "labelExpr": "datum.label === 'CO2-agnostic' ? 'CO2-agnostic\u00a0\u00a0\u00a0\u00a0\u00a0\u200B' : datum.label === 'System Policy' ? '\u200B\u00a0System Policy' : datum.label"}},
   "y": {"field": "level", "type": "quantitative", "scale": {"domain": [0, 100], "nice": false}, "axis": null},
   "y2": {"field": "end"}}},
 {"data": {"values": [{"from": "W&S (3X)", "to": "W&S (4X)", "level": 71.7}]},
  "mark": {"type": "rule", "color": "#5f5f5f", "strokeWidth": 10, "strokeDash": [10, 11]},
  "encoding": {
   "x": {"field": "from", "type": "nominal", "bandPosition": 0.418, "scale": {"domain": ["CO2-agnostic", "System Policy", "W&S (2X)", "W&S (3X)", "W&S (4X)"], "paddingInner": 0, "paddingOuter": 0},
    "axis": {"title": null, "orient": "bottom", "ticks": false, "domain": true, "domainColor": "black", "domainWidth": 6, "grid": false, "labelAngle": 0, "labelFontSize": 58, "labelPadding": 14, "labelLimit": 0, "labelOverlap": false,
     "labelExpr": "datum.label === 'CO2-agnostic' ? 'CO2-agnostic\u00a0\u00a0\u00a0\u00a0\u00a0\u200B' : datum.label === 'System Policy' ? '\u200B\u00a0System Policy' : datum.label"}},
   "x2": {"field": "to", "bandPosition": 1.5},
   "y": {"field": "level", "type": "quantitative", "scale": {"domain": [0, 100], "nice": false}, "axis": null}}}
],
"resolve": {"scale": {"y": "independent"}}
}
